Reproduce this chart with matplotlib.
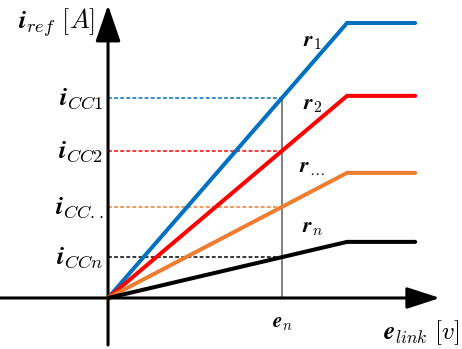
import numpy as np
import matplotlib.pyplot as plt

plt.rcParams['mathtext.fontset'] = 'cm'

# Current reference curves: linear rise up to the knee, then saturation
labels = [r'$\boldsymbol{r}_{1}$', r'$\boldsymbol{r}_{2}$', r'$\boldsymbol{r}_{\ldots}$', r'$\boldsymbol{r}_{n}$']
level_labels = [r'$\boldsymbol{i}_{CC1}$', r'$\boldsymbol{i}_{CC2}$', r'$\boldsymbol{i}_{CC..}$', r'$\boldsymbol{i}_{CCn}$']
colors = ['#0070C0', '#FF0000', '#ED7D31', '#000000']
i_sat = [1.0, 0.735, 0.455, 0.204]   # saturation current of each curve
label_y = [0.931, 0.702, 0.473, 0.255]
e_knee = 1.0                          # voltage where the curves saturate
e_end = 1.285                         # right end of the curves
e_n = 0.728                           # operating voltage

fig = plt.figure(figsize=(4.62, 3.49), dpi=100)
ax = fig.add_axes([0, 0, 1, 1])
ax.set_xlim(-0.452, 1.481)
ax.set_ylim(-0.1855, 1.0836)
ax.axis('off')

# axes with arrow heads
ax.annotate('', xy=(0, 1.065), xytext=(0, -0.171),
            arrowprops=dict(arrowstyle='-|>,head_length=1.6,head_width=0.55',
                            mutation_scale=14, lw=2.2, color='k', shrinkA=0, shrinkB=0))
ax.annotate('', xy=(1.389, 0), xytext=(-0.452, 0),
            arrowprops=dict(arrowstyle='-|>,head_length=1.45,head_width=0.47',
                            mutation_scale=14, lw=2.2, color='k', shrinkA=0, shrinkB=0))

for lab, lvl, c, s, ly in zip(labels, level_labels, colors, i_sat, label_y):
    slope = s / e_knee
    i_n = slope * e_n
    # dashed projection of the operating point onto the current axis
    ax.plot([0, e_n], [i_n, i_n], ls=(0, (2.5, 1.5)), lw=1.1, color=c, zorder=2)
    ax.plot([0, e_knee, e_end], [0, s, s], color=c, lw=2.9,
            solid_capstyle='round', solid_joinstyle='miter', zorder=3)
    ax.text(-0.02, i_n, lvl, ha='right', va='center', fontsize=19)
    ax.text(0.854, ly, lab, ha='center', va='center', fontsize=16)

# vertical line at the operating voltage
ax.plot([e_n, e_n], [0, i_sat[0] * e_n / e_knee], color='#808080', lw=1.4, zorder=2)

ax.text(e_n, -0.09, r'$\boldsymbol{e}_{n}$', ha='center', va='center', fontsize=15)
ax.text(1.473, -0.125, r'$\boldsymbol{e}_{link}\ [v]$', ha='right', va='center', fontsize=18)
ax.text(-0.055, 1.0, r'$\boldsymbol{i}_{ref}\ [A]$', ha='right', va='center', fontsize=19)

fig.savefig('out.png', dpi=100)
